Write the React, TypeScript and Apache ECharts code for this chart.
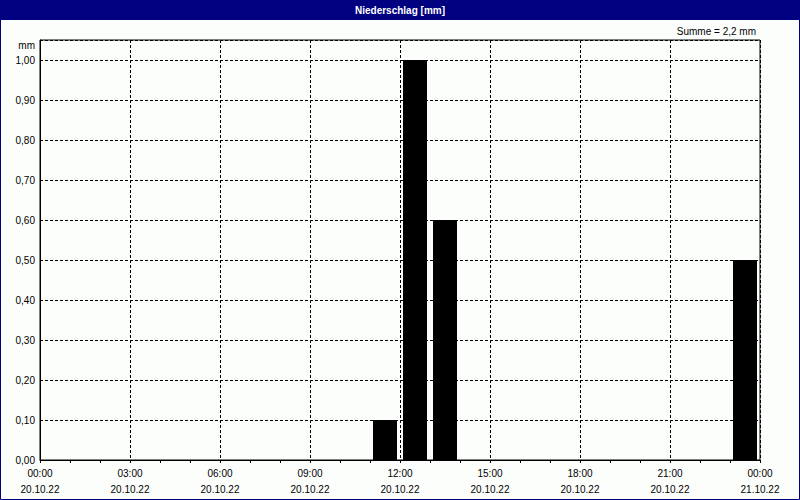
import React, { useEffect, useRef } from "react";
import * as echarts from "echarts";

const chartTitle = "Niederschlag [mm]";
const sumText = "Summe = 2,2 mm";
const unitLabel = "mm";
// hourly precipitation (mm), hour index 0..23 of 20.10.22
const hours = [11, 12, 13, 23];
const precip = [0.1, 1.0, 0.6, 0.5];
const xTimeLabels = ["00:00", "03:00", "06:00", "09:00", "12:00", "15:00", "18:00", "21:00", "00:00"];
const xDateLabels = ["20.10.22", "20.10.22", "20.10.22", "20.10.22", "20.10.22", "20.10.22", "20.10.22", "20.10.22", "21.10.22"];

const FONT = "Liberation Sans, Arial, sans-serif";

export default function App() {
  const ref = useRef<HTMLDivElement>(null);
  useEffect(() => {
    if (!ref.current) return;
    const chart = echarts.init(ref.current, null, { renderer: "svg" });
    const barData = hours.map((h, i) => [h + 0.5, precip[i]]);
    chart.setOption({
      animation: false,
      backgroundColor: "#fcfefc",
      textStyle: { fontFamily: FONT },
      grid: { left: 40, right: 40, top: 40, bottom: 40, show: true, borderColor: "#000", borderWidth: 1, backgroundColor: "transparent" },
      graphic: [
        { type: "rect", shape: { x: 0, y: 0, width: 800, height: 20 }, style: { fill: "#000080" }, z: 10 },
        { type: "rect", shape: { x: 0.5, y: 0.5, width: 799, height: 499 }, style: { fill: "none", stroke: "#000080", lineWidth: 1 }, z: 10 },
        { type: "text", x: 400, y: 10, style: { text: chartTitle, fill: "#fff", font: `bold 10px ${FONT}`, align: "center", verticalAlign: "middle" }, z: 11 },
        { type: "text", x: 756, y: 31, style: { text: sumText, fill: "#000", font: `10px ${FONT}`, align: "right", verticalAlign: "middle" }, z: 11 },
        { type: "text", x: 35, y: 45, style: { text: unitLabel, fill: "#000", font: `10px ${FONT}`, align: "right", verticalAlign: "middle" }, z: 11 },
      ],
      xAxis: {
        type: "value",
        min: 0,
        max: 24,
        interval: 3,
        axisLine: { show: true, lineStyle: { color: "#000", width: 1 } },
        axisTick: { show: true, length: 3, lineStyle: { color: "#000" } },
        minorTick: { show: true, splitNumber: 3, length: 3, lineStyle: { color: "#000" } },
        splitLine: { show: true, lineStyle: { color: "#000", type: [3, 2], width: 1 } },
        axisLabel: {
          margin: 5,
          color: "#000",
          fontSize: 10,
          lineHeight: 16,
          fontFamily: FONT,
          formatter: (v: number) => {
            const i = Math.round(v / 3);
            return `${xTimeLabels[i]}\n${xDateLabels[i]}`;
          },
        },
      },
      yAxis: {
        type: "value",
        min: 0,
        max: 1.05,
        interval: 0.1,
        axisLine: { show: true, lineStyle: { color: "#000", width: 1 } },
        axisTick: { show: false },
        splitLine: { show: true, lineStyle: { color: "#000", type: [3, 2], width: 1 } },
        axisLabel: {
          margin: 5,
          color: "#000",
          fontSize: 10,
          fontFamily: FONT,
          formatter: (v: number) => (v > 1.001 ? "" : v.toFixed(2).replace(".", ",")),
        },
      },
      series: [
        {
          type: "bar",
          data: barData,
          barWidth: 24,
          itemStyle: { color: "#000" },
          z: 3,
        },
      ],
    });
    return () => chart.dispose();
  }, []);
  return <div ref={ref} style={{ position: "fixed", left: 0, top: 0, width: 800, height: 500 }} />;
}
